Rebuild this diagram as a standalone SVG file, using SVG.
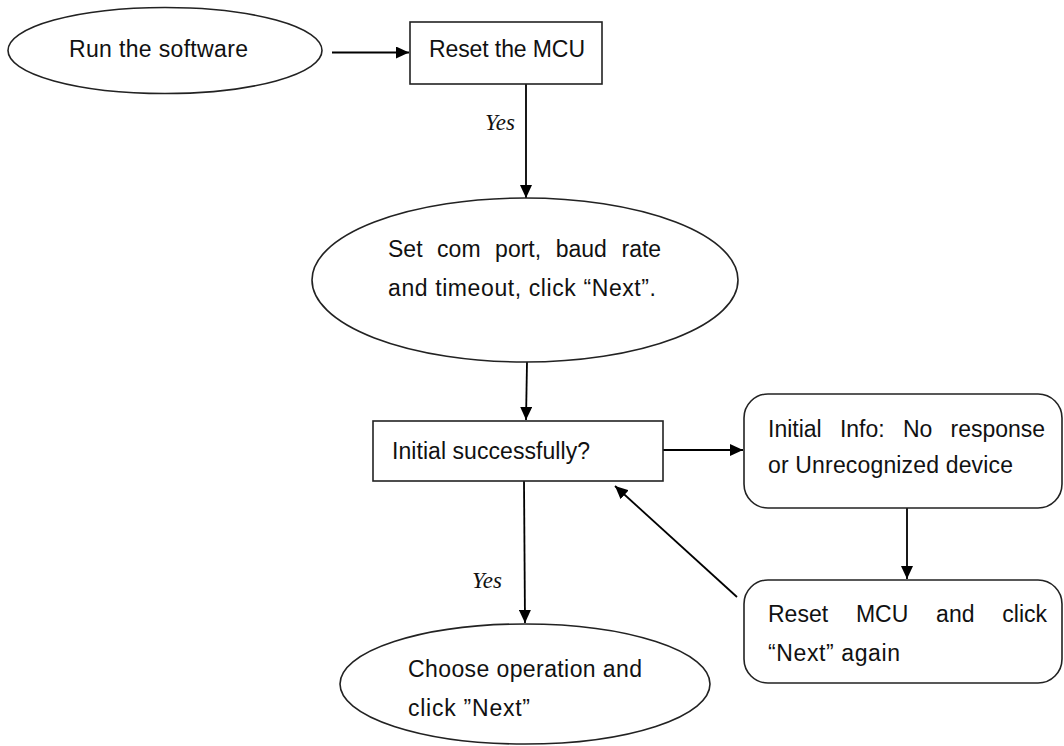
<svg xmlns="http://www.w3.org/2000/svg" width="1064" height="746" viewBox="0 0 1064 746">
<defs>
<marker id="ah" markerUnits="userSpaceOnUse" markerWidth="14" markerHeight="12" refX="13" refY="6" orient="auto">
<path d="M0,0 L13,6 L0,12 Z" fill="#000"/>
</marker>
<style>
.shape{fill:#fff;stroke:#222;stroke-width:1.6}
.t{font-family:"Liberation Sans",Arial,sans-serif;font-size:23px;fill:#111}
.y{font-family:"Liberation Serif","Times New Roman",serif;font-size:23px;font-style:italic;fill:#111}
.c{stroke:#000;stroke-width:1.8;fill:none;marker-end:url(#ah)}
</style>
</defs>
<rect width="1064" height="746" fill="#fff"/>
<g id="connectors">
<line class="c" x1="332" y1="52.5" x2="409" y2="52.5"/>
<line class="c" x1="526" y1="84" x2="526" y2="198"/>
<line class="c" x1="527" y1="362" x2="526" y2="420"/>
<line class="c" x1="663" y1="450" x2="743" y2="450"/>
<line class="c" x1="524" y1="481" x2="525" y2="623"/>
<line class="c" x1="907" y1="508" x2="907" y2="579"/>
<line class="c" x1="737" y1="597" x2="615" y2="486"/>
<text class="y" x="485" y="130">Yes</text>
<text class="y" x="472" y="588">Yes</text>
</g>
<g id="run">
<ellipse class="shape" cx="165" cy="50.5" rx="157" ry="43"/>
<text class="t" x="69" y="57" textLength="179" lengthAdjust="spacing">Run the software</text>
</g>
<g id="reset">
<rect class="shape" x="410" y="22" width="192" height="62"/>
<text class="t" x="429" y="57" textLength="156" lengthAdjust="spacing">Reset the MCU</text>
</g>
<g id="setport">
<ellipse class="shape" cx="525" cy="280" rx="213" ry="82"/>
<text class="t" y="257"><tspan x="388">Set</tspan> <tspan x="437.1">com</tspan> <tspan x="495.1">port,</tspan> <tspan x="555.7">baud</tspan> <tspan x="621.5">rate</tspan></text>
<text class="t" x="388" y="296" textLength="268" lengthAdjust="spacing">and timeout, click “Next”.</text>
</g>
<g id="initial">
<rect class="shape" x="373" y="421" width="290" height="60"/>
<text class="t" x="392" y="459" textLength="198" lengthAdjust="spacing">Initial successfully?</text>
</g>
<g id="info">
<rect class="shape" x="744" y="394" width="318" height="114" rx="24" ry="24"/>
<text class="t" y="437"><tspan x="768">Initial</tspan> <tspan x="839.9">Info:</tspan> <tspan x="902.9">No</tspan> <tspan x="950.5">response</tspan></text>
<text class="t" x="768" y="473" textLength="245" lengthAdjust="spacing">or Unrecognized device</text>
</g>
<g id="resetnext">
<rect class="shape" x="744" y="580" width="318" height="103" rx="24" ry="24"/>
<text class="t" y="622"><tspan x="768">Reset</tspan> <tspan x="855.9">MCU</tspan> <tspan x="936.1">and</tspan> <tspan x="1002.3">click</tspan></text>
<text class="t" x="768" y="661" textLength="132" lengthAdjust="spacing">“Next” again</text>
</g>
<g id="choose">
<ellipse class="shape" cx="525" cy="684" rx="185" ry="60"/>
<text class="t" x="408" y="677" textLength="234" lengthAdjust="spacing">Choose operation and</text>
<text class="t" x="408" y="716" textLength="122" lengthAdjust="spacing">click ”Next”</text>
</g>
</svg>
